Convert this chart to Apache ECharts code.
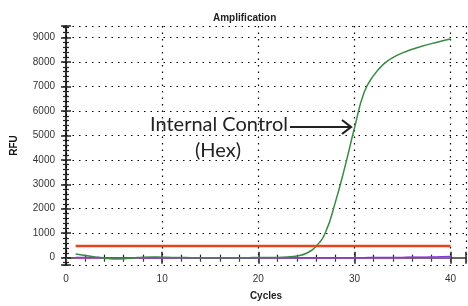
<!DOCTYPE html>
<html>
<head>
<meta charset="utf-8">
<script src="https://cdn.jsdelivr.net/npm/echarts@6/dist/echarts.min.js"></script>
<style>
  html, body { margin: 0; padding: 0; background: #fff; }
  #main { width: 468px; height: 306px; }
</style>
</head>
<body>
<div id="main"></div>
<script>
// cycles 1..40
var cycles = [];
for (var c = 1; c <= 40; c++) cycles.push(c);

// Hex (internal control) curve
var hexRfu = [150, 90, 30, -20, -50, -40, -10, 20, 30, 20,
  10, 5, 0, 0, 0, 0, 0, 0, 0, 5,
  5, 10, 30, 70, 180, 460, 1050, 2250, 3700, 5300,
  6750, 7450, 7900, 8180, 8370, 8520, 8640, 8750, 8850, 8940];
// flat traces near zero
var purpleRfu = [10, 10, 5, 0, 0, 0, 0, 0, 0, 0,
  0, 0, 0, 0, 0, 0, 0, 0, 0, 0,
  0, 0, 0, 0, 0, 0, 0, 0, 0, 0,
  0, 5, 5, 10, 10, 15, 20, 25, 35, 45];
var pinkRfu = [-10, -10, -10, -10, -10, -10, -5, -5, -5, -5,
  -5, -5, -5, -5, -5, -5, -5, -5, -5, -5,
  -5, -5, -5, -5, -5, -5, -5, -5, -5, -5,
  -5, -5, 0, 0, 0, 5, 5, 5, 10, 10];
var threshold = 480;

function pairs(vals) {
  return cycles.map(function (x, i) { return [x, vals[i]]; });
}

var chart = echarts.init(document.getElementById('main'));

var tickText = { fontFamily: 'Liberation Sans', fontSize: 10, color: '#333' };
var dotted = { color: '#000', width: 1.2, type: [1.5, 5] };
var plain = function (v) { return String(v); };

var option = {
  animation: false,
  title: {
    text: 'Amplification',
    left: 208,
    top: 8,
    textStyle: { fontFamily: 'Liberation Sans', fontSize: 10, fontWeight: 'bold', color: '#222' }
  },
  grid: { left: 66, right: 2, top: 26, bottom: 38 },
  xAxis: [{
    type: 'value', position: 'bottom', min: 0, max: 41.6, interval: 10,
    name: 'Cycles', nameLocation: 'middle', nameGap: 26,
    nameTextStyle: { fontFamily: 'Liberation Sans', fontSize: 10, fontWeight: 'bold', color: '#222' },
    axisLine: { lineStyle: { color: '#666', width: 2 } },
    axisTick: { length: 6, lineStyle: { color: '#222', width: 1.5 } },
    minorTick: { show: true, splitNumber: 5, length: 4, lineStyle: { color: '#222', width: 1.2 } },
    axisLabel: Object.assign({ margin: 9, showMaxLabel: false, formatter: plain }, tickText),
    splitLine: { show: true, lineStyle: dotted }
  }, {
    type: 'value', position: 'bottom', min: 0, max: 41.6, interval: 10,
    axisLine: { show: false },
    axisTick: { inside: true, length: 6, lineStyle: { color: '#222', width: 1.5 } },
    minorTick: { show: true, splitNumber: 5, length: 3, lineStyle: { color: '#222', width: 1.2 } },
    axisLabel: { show: false },
    splitLine: { show: false }
  }, {
    type: 'value', position: 'top', min: 0, max: 41.6, interval: 10,
    axisLine: { lineStyle: { color: '#666', width: 2 } },
    axisTick: { inside: true, length: 4, lineStyle: { color: '#444' } },
    minorTick: { show: true, splitNumber: 5, length: 3, lineStyle: { color: '#444' } },
    axisLabel: { show: false },
    splitLine: { show: false }
  }],
  yAxis: [{
    type: 'value', position: 'left', min: -300, max: 9470, splitNumber: 10,
    name: 'RFU', nameLocation: 'middle', nameGap: 47, nameRotate: 90,
    nameTextStyle: { fontFamily: 'Liberation Sans', fontSize: 10, fontWeight: 'bold', color: '#111' },
    axisLine: { lineStyle: { color: '#333', width: 2 } },
    axisTick: { length: 5, lineStyle: { color: '#222', width: 1.5 } },
    minorTick: { show: true, splitNumber: 5, length: 3, lineStyle: { color: '#222', width: 1.2 } },
    axisLabel: Object.assign({ margin: 11, showMinLabel: false, showMaxLabel: false, formatter: plain }, tickText),
    splitLine: { show: true, lineStyle: dotted }
  }, {
    type: 'value', position: 'left', min: -300, max: 9470, splitNumber: 10,
    axisLine: { show: false },
    axisTick: { inside: true, length: 5, lineStyle: { color: '#222', width: 1.5 } },
    minorTick: { show: true, splitNumber: 5, length: 3, lineStyle: { color: '#222', width: 1.2 } },
    axisLabel: { show: false },
    splitLine: { show: false }
  }, {
    type: 'value', position: 'right', min: -300, max: 9470, splitNumber: 10,
    axisLine: { lineStyle: { color: '#000', width: 1.2, type: [1.5, 5] } },
    axisTick: { inside: true, length: 3, lineStyle: { color: '#222' } },
    axisLabel: { show: false },
    splitLine: { show: false }
  }],
  series: [{
    name: 'pink', type: 'line', data: pairs(pinkRfu), smooth: true, symbol: 'none',
    lineStyle: { color: '#e050c8', width: 1.5 }
  }, {
    name: 'purple', type: 'line', data: pairs(purpleRfu), smooth: true, symbol: 'none',
    lineStyle: { color: '#7a3cdc', width: 1.5 }
  }, {
    name: 'Hex', type: 'line', data: pairs(hexRfu), smooth: true, symbol: 'none',
    lineStyle: { color: '#3b8a44', width: 1.5 }
  }, {
    name: 'threshold', type: 'line', symbol: 'none',
    data: [[cycles[0], threshold], [cycles[cycles.length - 1], threshold]],
    lineStyle: { color: '#e8431f', width: 2.5 }
  }],
  graphic: [{
    type: 'text', left: 150, top: 115,
    style: { text: 'Internal Control', fontFamily: 'Lato', fontSize: 20, fill: '#222' }
  }, {
    type: 'text', left: 195, top: 141,
    style: { text: '(Hex)', fontFamily: 'Lato', fontSize: 20, fill: '#222' }
  }, {
    type: 'line', shape: { x1: 290, y1: 127, x2: 351, y2: 127 },
    style: { stroke: '#222', lineWidth: 2 }
  }, {
    type: 'polyline', shape: { points: [[342, 120], [351, 127], [342, 134]] },
    style: { stroke: '#222', lineWidth: 2.2, fill: null }
  }]
};
chart.setOption(option);
</script>
</body>
</html>
